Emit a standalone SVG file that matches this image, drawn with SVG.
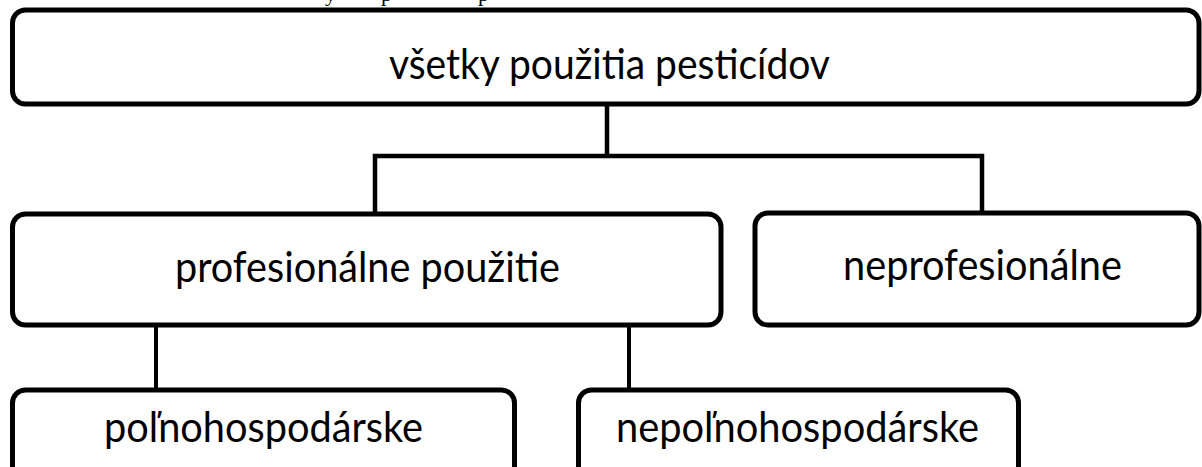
<svg xmlns="http://www.w3.org/2000/svg" width="1202" height="467" viewBox="0 0 1202 467">
<style>
.box{fill:#fff;stroke:#000;stroke-width:5}
.lbl{font-family:Lato,"Open Sans","Liberation Sans",sans-serif;font-size:43px;fill:#000}
.cap{font-family:"Liberation Serif","Times New Roman",serif;font-size:22px;fill:#000}
.con{fill:none;stroke:#000;stroke-width:4.5;stroke-linecap:square}
.con2{fill:none;stroke:#000;stroke-width:4}
</style>
<rect width="1202" height="467" fill="#fff"/>
<g id="caption-fragment">
<text class="cap" x="325" y="0.5">y</text>
<text class="cap" x="381" y="0.5">p</text>
<text class="cap" x="478" y="0.5">p</text>
</g>
<g id="connectors">
<path class="con" d="M607 105 V156 M375 156 H982 M375 156 V212 M982 156 V211"/>
<path class="con2" d="M156 327 V388 M629 327 V388"/>
</g>
<g id="node-all">
<rect class="box" x="12.5" y="10" width="1186.5" height="94" rx="13"/>
<text class="lbl" x="389" y="79" textLength="441" lengthAdjust="spacingAndGlyphs">všetky použitia pesticídov</text>
</g>
<g id="node-prof">
<rect class="box" x="12.5" y="214" width="708.5" height="111" rx="13"/>
<text class="lbl" x="175" y="282" textLength="385" lengthAdjust="spacingAndGlyphs">profesionálne použitie</text>
</g>
<g id="node-neprof">
<rect class="box" x="755" y="213" width="444" height="112" rx="13"/>
<text class="lbl" x="843" y="280" textLength="279" lengthAdjust="spacingAndGlyphs">neprofesionálne</text>
</g>
<g id="node-poln">
<rect class="box" x="12.5" y="390" width="502" height="110" rx="13"/>
<text class="lbl" x="104" y="442" textLength="319" lengthAdjust="spacingAndGlyphs">poľnohospodárske</text>
</g>
<g id="node-nepoln">
<rect class="box" x="578.5" y="390" width="440" height="110" rx="13"/>
<text class="lbl" x="616" y="442" textLength="363" lengthAdjust="spacingAndGlyphs">nepoľnohospodárske</text>
</g>
</svg>
